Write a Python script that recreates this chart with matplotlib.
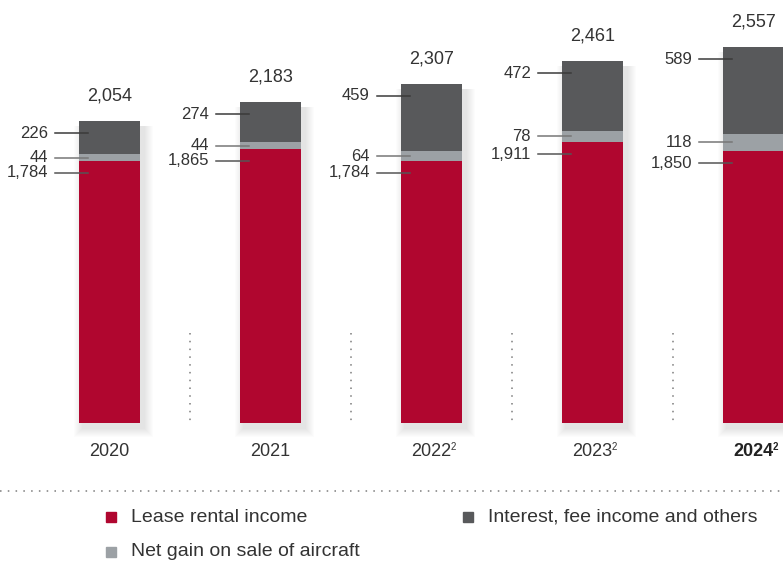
import matplotlib.pyplot as plt

years = ["2020", "2021", "2022", "2023", "2024"]
year_notes = ["", "", "2", "2", "2"]
lease = [1784, 1865, 1784, 1911, 1850]
net_gain = [44, 44, 64, 78, 118]
interest = [226, 274, 459, 472, 589]

RED = "#B0062F"
DARK = "#58595B"
LIGHT = "#9CA1A5"
TEXT = "#333333"

plt.rcParams["font.family"] = ["Liberation Sans", "DejaVu Sans"]

# pixel geometry of the reference
PX_PER_UNIT = 0.147
PITCH = 161.0
X0, Y0 = 109.5, 423.0
W, H = 783, 566


def px_x(p):
    return (p - X0) / PITCH


def px_y(p):
    return (Y0 - p) / PX_PER_UNIT


dx = 1 / PITCH
dy = 1 / PX_PER_UNIT

fig = plt.figure(figsize=(W / 100, H / 100), dpi=100)
ax = fig.add_axes([0, 0, 1, 1])
ax.set_xlim(px_x(0), px_x(W))
ax.set_ylim(px_y(H), px_y(0))
ax.axis("off")

width = 61 / PITCH
xs = list(range(len(years)))
totals = [a + b + c for a, b, c in zip(lease, net_gain, interest)]

# soft drop shadow, mostly right and below
for k in range(1, 10):
    ax.bar([x + 4 * dx for x in xs], [t + k * dy for t in totals],
           width=width + 2 * k * dx, bottom=-(5 + k) * dy,
           color="black", alpha=0.012, linewidth=0, zorder=1)

ax.bar(xs, lease, width=width, color=RED, linewidth=0, zorder=3)
ax.bar(xs, net_gain, width=width, bottom=lease, color=LIGHT, linewidth=0, zorder=3)
bottoms = [a + b for a, b in zip(lease, net_gain)]
ax.bar(xs, interest, width=width, bottom=bottoms, color=DARK, linewidth=0, zorder=3)

for i, x in enumerate(xs):
    left = x - width / 2
    rows = [
        (interest[i], totals[i] - 12 * dy, "#3a3a3a"),
        (net_gain[i], lease[i] + net_gain[i] / 2, "#777777"),
        (lease[i], lease[i] - 12 * dy, "#555555"),
    ]
    for val, yv, lc in rows:
        ax.plot([left - 24 * dx, left + 9 * dx], [yv, yv], color=lc, lw=1.1, zorder=4)
        ax.text(left - 31 * dx, yv, f"{val:,}", ha="right", va="center",
                fontsize=12, color=TEXT, zorder=5)
    ax.text(x, totals[i] + 25 * dy, f"{totals[i]:,}", ha="center", va="center",
            fontsize=13, color=TEXT)
    bold = i == len(xs) - 1
    ax.text(x, px_y(451), years[i], ha="center", va="center", fontsize=13,
            color="#222222" if bold else TEXT, fontweight="bold" if bold else "normal")
    if year_notes[i]:
        ax.annotate(year_notes[i], (x, px_y(451)), xytext=(14, 3),
                    textcoords="offset points", ha="left", va="center", fontsize=7,
                    color="#222222" if bold else TEXT,
                    fontweight="bold" if bold else "normal")

# dotted separators between years
for x in xs[:-1]:
    ax.plot([x + 0.5, x + 0.5], [px_y(333), px_y(421)], color="#999999",
            lw=1.4, linestyle=(0, (0.8, 3.2)), zorder=2)

# dotted rule above legend
ax.plot([px_x(0), px_x(W)], [px_y(491), px_y(491)], color="#999999",
        lw=1.4, linestyle=(0, (0.8, 3.2)))

legend_items = [
    ("Lease rental income", RED, 111, 517),
    ("Interest, fee income and others", DARK, 468, 517),
    ("Net gain on sale of aircraft", LIGHT, 111, 552),
]
for name, col, lx, ly in legend_items:
    ax.plot(px_x(lx), px_y(ly), marker="s", markersize=6.5, color=col, linestyle="none")
    ax.text(px_x(lx + 20), px_y(ly), name, ha="left", va="center", fontsize=14, color=TEXT)

fig.savefig("out.png", dpi=100)
